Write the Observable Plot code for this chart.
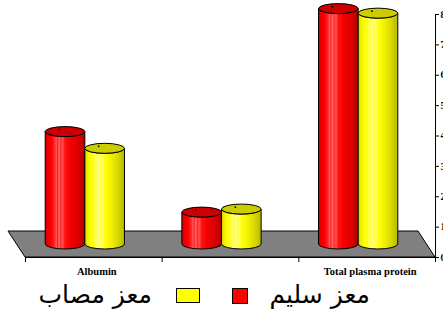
<!DOCTYPE html>
<html>
<head>
<meta charset="utf-8">
<script src="https://cdn.jsdelivr.net/npm/d3@7"></script>
<script src="https://cdn.jsdelivr.net/npm/@observablehq/plot@0.6"></script>
<style>
  body { margin: 0; background: #fff; }
  #chart svg { display: block; }
  #legend { position: relative; width: 443px; height: 42px; }
  #legend .lt { position: absolute; top: 0px; font-family: "DejaVu Sans", sans-serif; font-size: 25px; line-height: 30px; direction: rtl; white-space: nowrap; color: #000; }
  #legend .sw { position: absolute; top: 8px; box-sizing: border-box; border: 1px solid #000; }
</style>
</head>
<body>
<div id="chart"></div>
<div id="legend"></div>
<script>
// Serum proteins (g/dl) of healthy and infected goats
const categories = ["Albumin", "Globulin", "Total plasma protein"];
const healthy = [3.7, 1.05, 7.75];
const infected = [3.15, 1.15, 7.6];
const seriesNames = ["معز سليم", "معز مصاب"];
const seriesColors = ["#ff0000", "#ffff00"];
const yTicks = [0, 1, 2, 3, 4, 5, 6, 7, 8];

const W = 443, H = 280;
const n = categories.length;

const plot = Plot.plot({
  width: W,
  height: H,
  marginLeft: 25,
  marginRight: 8,
  marginTop: 14,
  marginBottom: 23,
  style: { fontFamily: "'Liberation Serif', 'Times New Roman', serif", fontSize: "10px", fontWeight: "bold", background: "#fff", overflow: "hidden" },
  x: { type: "linear", domain: [0, n], axis: "bottom", ticks: d3.range(n + 1), tickFormat: () => "", tickSize: 5, label: null },
  y: { domain: [0, 8], axis: "right", ticks: yTicks, tickSize: 3, tickPadding: 2, tickFormat: d => d, label: null },
  marks: [
    Plot.ruleY([0], { x1: 0, x2: n, stroke: "#000" }),
    Plot.ruleX([n], { y1: 0, y2: 8, stroke: "#000" }),
    Plot.text(categories, {
      x: (d, i) => i + 0.5,
      y: 0,
      text: (d, i) => (i % 2 === 1 ? "" : d),
      dy: 14,
      dx: 3,
      fontSize: 10.5,
      fontWeight: "bold",
      fill: "#000"
    })
  ]
});
document.getElementById("chart").appendChild(plot);

// 3-D floor and cylinders placed with the plot's own scales
const sx = plot.scale("x"), sy = plot.scale("y");
const X = v => sx.apply(v), Y = v => sy.apply(v);
const depthX = -17, depthY = -26;          // back edge offset of the floor
const midX = depthX / 2, midY = depthY / 2; // columns stand at mid depth
const barW = 0.29;                          // column width in category units
const ry = 5;

const svg = d3.select(plot);
const defs = svg.insert("defs", ":first-child");
const gradients = [
  [[0, "#c80000"], [0.06, "#ee0000"], [0.16, "#ff0000"], [0.24, "#ff2a2a"], [0.28, "#ff5a5a"], [0.31, "#ff2020"], [0.35, "#ff6a6a"], [0.39, "#ff2a2a"], [0.44, "#ff5050"], [0.5, "#ff1010"], [0.65, "#f20000"], [0.82, "#dc0000"], [1, "#b40000"]],
  [[0, "#cccc00"], [0.06, "#eeee00"], [0.16, "#ffff00"], [0.24, "#ffff30"], [0.28, "#ffff80"], [0.31, "#ffff30"], [0.35, "#ffff90"], [0.39, "#ffff40"], [0.44, "#ffff70"], [0.5, "#ffff10"], [0.65, "#f2f200"], [0.82, "#dada00"], [1, "#b8b800"]]
];
const topColors = ["#cc0000", "#cccc00"];
gradients.forEach((stops, k) => {
  const g = defs.append("linearGradient").attr("id", "cyl" + k).attr("x1", 0).attr("x2", 1).attr("y1", 0).attr("y2", 0);
  stops.forEach(([o, c]) => g.append("stop").attr("offset", o).attr("stop-color", c));
});

const scene = svg.insert("g", "g").attr("class", "scene");

// floor
const f0 = [X(0), Y(0)], f1 = [X(n), Y(0)];
scene.append("path")
  .attr("d", `M${f0[0]},${f0[1]}L${f1[0]},${f1[1]}L${f1[0] + depthX},${f1[1] + depthY}L${f0[0] + depthX},${f0[1] + depthY}Z`)
  .attr("fill", "#808080")
  .attr("stroke", "#000")
  .attr("stroke-width", 1);

// columns
const series = [healthy, infected];
categories.forEach((c, i) => {
  series.forEach((vals, k) => {
    const x0 = X(i + 0.5 + (k === 0 ? -barW : 0)) + midX;
    const x1 = X(i + 0.5 + (k === 0 ? 0 : barW)) + midX;
    const rx = (x1 - x0) / 2;
    const cx = (x0 + x1) / 2;
    const yb = Y(0) + midY;
    const yt = Y(vals[i]) + midY;
    const g = scene.append("g");
    g.append("path")
      .attr("d", `M${x0},${yt}L${x0},${yb}A${rx},${ry} 0 0 0 ${x1},${yb}L${x1},${yt}A${rx},${ry} 0 0 1 ${x0},${yt}Z`)
      .attr("fill", `url(#cyl${k})`)
      .attr("stroke", "#000")
      .attr("stroke-width", 1);
    g.append("ellipse")
      .attr("cx", cx).attr("cy", yt).attr("rx", rx).attr("ry", ry)
      .attr("fill", topColors[k])
      .attr("stroke", "#000")
      .attr("stroke-width", 1);
    g.append("circle")
      .attr("cx", cx - 6).attr("cy", yt - 2).attr("r", 0.9)
      .attr("fill", "#000");
  });
});

// legend below the chart
const legend = d3.select("#legend");
const textRight = [73, 291];
const swatchLeft = [232, 176];
const swatchSize = [[16, 16], [24, 15]];
seriesNames.forEach((name, k) => {
  legend.append("span").attr("class", "lt").style("right", textRight[k] + "px").text(name);
  legend.append("span").attr("class", "sw")
    .style("left", swatchLeft[k] + "px")
    .style("width", swatchSize[k][0] + "px")
    .style("height", swatchSize[k][1] + "px")
    .style("background", seriesColors[k]);
});
</script>
</body>
</html>
